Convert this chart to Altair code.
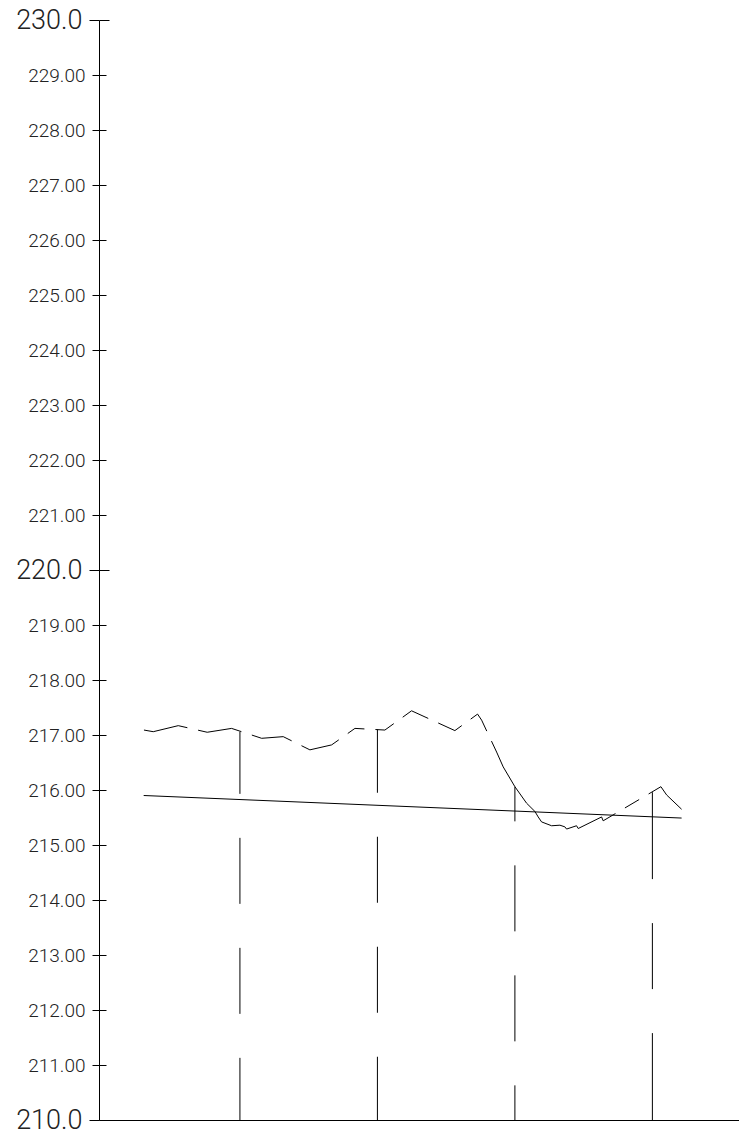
import altair as alt
import pandas as pd

# ---- data ----
ground_station = [6.04, 7.39, 11.03, 15.24, 18.79, 23.16, 26.30, 30.18, 33.34, 36.73,
                  41.09, 44.97, 51.27, 54.57, 55.16, 57.34, 58.30, 60.00, 61.70, 62.91,
                  63.39, 63.88, 65.34, 66.55, 67.27, 67.52, 68.97, 69.21, 72.61, 72.84,
                  81.24, 82.07, 84.25]
ground_elev = [217.09, 217.06, 217.17, 217.05, 217.12, 216.94, 216.97, 216.73, 216.82, 217.12,
               217.09, 217.44, 217.08, 217.38, 217.27, 216.69, 216.42, 216.06, 215.76, 215.61,
               215.51, 215.42, 215.35, 215.36, 215.33, 215.29, 215.35, 215.30, 215.51, 215.44,
               216.06, 215.91, 215.65]

design_station = [6.0, 84.25]
design_elev = [215.90, 215.49]

vert_station = [20, 40, 60, 80]
vert_top = [217.06, 217.10, 216.06, 215.96]
datum_elev = 210.0

y_ticks = [210 + i for i in range(21)]
y_major = [210, 220, 230]
y_minor = [v for v in y_ticks if v % 10 != 0]

X_DOMAIN = [-0.5, 92.6]
Y_DOMAIN = [210, 230]
W, H = 640, 1100
PX_X = W / (X_DOMAIN[1] - X_DOMAIN[0])
PX_Y = H / (Y_DOMAIN[1] - Y_DOMAIN[0])


def cad_dash(length, dash, gap):
    """CAD style linetype: pattern centred on each segment, ends are dashes."""
    best = 0
    k = 1
    while (length - k * gap - (k - 1) * dash) / 2 >= dash / 2:
        best = k
        k += 1
    if best == 0:
        return [10000, 1]
    end = (length - best * gap - (best - 1) * dash) / 2
    arr = [end]
    for _ in range(best - 1):
        arr += [gap, dash]
    arr += [gap, end, 10000]
    return arr


rows = []
for i in range(len(ground_station) - 1):
    s1, s2 = ground_station[i], ground_station[i + 1]
    e1, e2 = ground_elev[i], ground_elev[i + 1]
    L = (((s2 - s1) * PX_X) ** 2 + ((e2 - e1) * PX_Y) ** 2) ** 0.5
    rows.append({"st": s1, "st2": s2, "el": e1, "el2": e2, "dash": cad_dash(L, 16.5, 11)})
ground_df = pd.DataFrame(rows)

design_df = pd.DataFrame({"st": [design_station[0]], "st2": [design_station[1]],
                          "el": [design_elev[0]], "el2": [design_elev[1]]})

vrows = []
for s, t in zip(vert_station, vert_top):
    L = (t - datum_elev) * PX_Y
    vrows.append({"st": s, "top": t, "bottom": datum_elev, "dash": cad_dash(L, 66, 44)})
vert_df = pd.DataFrame(vrows)

FONT = "Roboto, sans-serif"

x_axis = alt.Axis(orient="bottom", title=None, labels=False, ticks=False, domain=True,
                  grid=False, domainColor="black", domainWidth=1)
x_scale = alt.Scale(domain=X_DOMAIN, nice=False, zero=False)
y_scale = alt.Scale(domain=Y_DOMAIN, nice=False, zero=False)

axis_main = alt.Axis(
    orient="left", values=y_ticks, title=None, grid=False,
    domain=True, domainColor="black", domainWidth=1,
    ticks=True, tickColor="black", tickWidth=1,
    tickSize={"condition": {"test": "datum.value % 10 === 0", "value": 10}, "value": 7},
    labelExpr="datum.value % 10 === 0 ? format(datum.value, '.1f') : format(datum.value, '.2f')",
    labelFontSize={"condition": {"test": "datum.value % 10 === 0", "value": 27}, "value": 19},
    labelFont=FONT, labelFontWeight=300, labelColor="#222222", labelPadding=7,
    labelOverlap=False, labelFlush=False, labelBound=False,
)
axis_in_minor = alt.Axis(orient="left", values=y_minor, title=None, grid=False, domain=False,
                         labels=False, ticks=True, tickColor="black", tickWidth=1,
                         tickSize=7, offset=-7)
axis_in_major = alt.Axis(orient="left", values=y_major, title=None, grid=False, domain=False,
                         labels=False, ticks=True, tickColor="black", tickWidth=1,
                         tickSize=10, offset=-10)

ground = alt.Chart(ground_df).mark_rule(color="black", strokeWidth=1).encode(
    x=alt.X("st:Q", scale=x_scale, axis=x_axis),
    x2="st2:Q",
    y=alt.Y("el:Q", scale=y_scale, axis=axis_main),
    y2="el2:Q",
    strokeDash=alt.StrokeDash("dash:N", scale=None, legend=None),
)

design = alt.Chart(design_df).mark_rule(color="black", strokeWidth=1).encode(
    x=alt.X("st:Q", scale=x_scale, axis=x_axis),
    x2="st2:Q",
    y=alt.Y("el:Q", scale=y_scale, axis=axis_in_minor),
    y2="el2:Q",
)

verts = alt.Chart(vert_df).mark_rule(color="black", strokeWidth=1).encode(
    x=alt.X("st:Q", scale=x_scale, axis=x_axis),
    y=alt.Y("top:Q", scale=y_scale, axis=axis_in_major),
    y2="bottom:Q",
    strokeDash=alt.StrokeDash("dash:N", scale=None, legend=None),
)

chart = alt.layer(ground, design, verts).resolve_axis(y="independent").properties(
    width=W, height=H,
    background="white",
    autosize=alt.AutoSizeParams(type="none"),
    padding={"left": 91, "top": 12, "right": 0, "bottom": 14},
).configure_view(strokeWidth=0, stroke=None)

chart.save("out.html", embed_options={"renderer": "svg", "actions": False})
